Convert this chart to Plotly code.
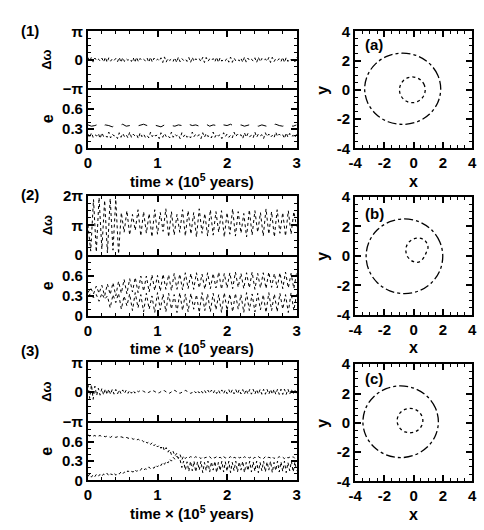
import numpy as np
import plotly.graph_objects as go

# ---------------- data ----------------
t61 = np.round(np.arange(61) * 0.05, 3)
t76 = np.round(np.arange(76) * 0.04, 3)
t121 = np.round(np.arange(121) * 0.025, 3)

x_ticks_time = [0, 1, 2, 3]
x_tick_labels_time = ["0", "1", "2", "3"]
e_ticks = [0, 0.3, 0.6]
e_tick_labels = ["0", "0.3", "0.6"]
dw_ticks_sym = [-3.1416, 0, 3.1416]
dw_labels_sym = ["\u2212\u03c0", "0", "\u03c0"]
dw_ticks_pos = [0, 3.1416, 6.2832]
dw_labels_pos = ["0", "\u03c0", "2\u03c0"]
orbit_ticks = [-4, -2, 0, 2, 4]
orbit_tick_labels = ["-4", "-2", "0", "2", "4"]

# Row (1)
dw1 = [0.25,-0.2,0.3,-0.25,0.2,-0.1,0.08,-0.12,0.2,-0.25,
       0.3,-0.28,0.22,-0.15,0.1,-0.08,0.15,-0.22,0.28,-0.3,
       0.25,-0.18,0.12,-0.06,0.1,-0.18,0.25,-0.3,0.3,-0.22,
       0.15,-0.08,0.06,-0.12,0.2,-0.28,0.3,-0.26,0.18,-0.1,
       0.08,-0.14,0.22,-0.3,0.32,-0.25,0.16,-0.08,0.1,-0.16,
       0.24,-0.3,0.3,-0.22,0.14,-0.07,0.1,-0.18,0.26,-0.3,
       0.28,-0.2,0.12,-0.06,0.12,-0.2,0.28,-0.3,0.26,-0.18,
       0.1,-0.08,0.14,-0.22,0.3,-0.3,0.24,-0.15,0.08,-0.1,
       0.18,-0.26,0.3,-0.28,0.2,-0.12,0.06,-0.12,0.2,-0.28,
       0.3,-0.25,0.18,-0.1,0.08,-0.14,0.22,-0.3,0.3,-0.22,
       0.14,-0.07,0.1,-0.18,0.26,-0.3,0.28,-0.2,0.12,-0.06,
       0.12,-0.2,0.28,-0.3,0.26,-0.18,0.1,-0.08,0.14,-0.22,
       0.3]
e1_outer = [0.36,0.34,0.35,0.37,0.34,0.36,0.35,0.33,0.36,0.35,
            0.37,0.34,0.35,0.36,0.34,0.35,0.37,0.35,0.34,0.36,
            0.35,0.33,0.36,0.37,0.35,0.34,0.36,0.35,0.34,0.37,
            0.35,0.36,0.34,0.35,0.37,0.34,0.36,0.35,0.33,0.36,
            0.35,0.37,0.34,0.35,0.36,0.34,0.35,0.37,0.35,0.34,
            0.36,0.35,0.33,0.36,0.37,0.35,0.34,0.36,0.35,0.34,
            0.36]
e1_inner = [0.22,0.16,0.24,0.17,0.21,0.19,0.23,0.15,0.24,0.18,
            0.2,0.17,0.25,0.16,0.22,0.19,0.2,0.15,0.24,0.17,
            0.23,0.18,0.21,0.16,0.25,0.17,0.22,0.19,0.21,0.15,
            0.24,0.18,0.22,0.17,0.2,0.16,0.25,0.18,0.22,0.19,
            0.21,0.15,0.24,0.17,0.23,0.18,0.2,0.16,0.25,0.17,
            0.22,0.19,0.21,0.15,0.24,0.18,0.22,0.17,0.2,0.16,
            0.25,0.18,0.22,0.19,0.21,0.15,0.24,0.17,0.23,0.18,
            0.2,0.16,0.25,0.17,0.22,0.19,0.21,0.15,0.24,0.18,
            0.22,0.17,0.2,0.16,0.25,0.18,0.22,0.19,0.21,0.15,
            0.24,0.17,0.23,0.18,0.2,0.16,0.25,0.17,0.22,0.19,
            0.21,0.15,0.24,0.18,0.22,0.17,0.2,0.16,0.25,0.18,
            0.22,0.19,0.21,0.15,0.24,0.17,0.23,0.18,0.2,0.16,
            0.22]

# Row (2)
dw2 = [3.2,0.4,5.9,0.3,6.1,0.6,5.8,0.2,6.0,0.5,
       5.9,0.1,4.5,2.4,4.7,2.1,4.3,2.6,4.8,2.0,
       4.6,2.3,4.4,1.9,4.8,2.2,4.5,2.5,4.9,1.9,
       4.6,2.1,4.3,2.4,4.8,2.0,4.7,2.2,4.5,1.9,
       4.9,2.3,4.4,2.0,4.8,2.1,4.6,2.4,4.7,1.9,
       4.5,2.2,4.9,2.0,4.6,2.3,4.4,1.9,4.8,2.1,
       4.7,2.4,4.5,2.0,4.9,2.2,4.6,1.9,4.8,2.3,
       4.5,2.0,4.7,2.2,4.6,3.0]
e2_upper = [0.35,0.42,0.33,0.45,0.34,0.46,0.3,0.48,0.32,0.5,
            0.3,0.52,0.34,0.55,0.33,0.56,0.36,0.58,0.35,0.6,
            0.37,0.6,0.36,0.62,0.38,0.61,0.37,0.63,0.4,0.62,
            0.38,0.64,0.4,0.63,0.39,0.65,0.41,0.64,0.4,0.65,
            0.42,0.63,0.4,0.65,0.41,0.64,0.42,0.66,0.4,0.64,
            0.42,0.65,0.41,0.66,0.43,0.64,0.41,0.65,0.42,0.66,
            0.4,0.64,0.42,0.65,0.41,0.66,0.43,0.64,0.42,0.65,
            0.41,0.66,0.42,0.64,0.41,0.65]
e2_lower = [0.3,0.33,0.27,0.32,0.22,0.34,0.25,0.3,0.12,0.32,
            0.2,0.34,0.1,0.3,0.15,0.33,0.08,0.35,0.12,0.32,
            0.06,0.34,0.1,0.3,0.05,0.35,0.09,0.33,0.06,0.34,
            0.1,0.32,0.05,0.35,0.08,0.33,0.06,0.34,0.1,0.32,
            0.05,0.35,0.08,0.33,0.06,0.34,0.09,0.32,0.05,0.35,
            0.08,0.33,0.06,0.34,0.1,0.32,0.05,0.35,0.08,0.33,
            0.06,0.34,0.09,0.32,0.05,0.35,0.08,0.33,0.06,0.34,
            0.1,0.32,0.05,0.35,0.08,0.33]

# Row (3)
dw3 = [0.8,-0.7,0.75,-0.8,0.6,
       -0.4,0.38,-0.36,0.35,-0.33,0.32,-0.3,0.3,-0.28,0.27,-0.25,0.25,
       -0.23,0.22,-0.2,0.2,-0.18,0.18,-0.16,0.16,-0.15,0.15,-0.14,0.13,
       0.0,0.12,0.15,0.05,-0.1,-0.15,-0.05,0.1,0.15,0.08,-0.08,-0.15,
       -0.1,0.05,0.15,0.12,-0.02,-0.14,-0.14,0.0,0.13,0.15,0.02,-0.12,
       -0.15,-0.04,0.1,0.15,0.06,-0.1,-0.16,-0.08,
       0.12,-0.12,0.14,-0.13,0.15,-0.14,0.16,-0.15,0.17,-0.16,
       0.18,-0.17,0.19,-0.18,0.2,-0.19,0.2,-0.2,0.21,-0.2,
       0.22,-0.21,0.22,-0.22,0.23,-0.22,0.24,-0.23,0.24,-0.24,
       0.25,-0.24,0.25,-0.25,0.26,-0.25,0.26,-0.26,0.26,-0.26,
       0.27,-0.26,0.27,-0.27,0.27,-0.27,0.28,-0.27,0.28,-0.28,
       0.28,-0.28,0.28,-0.28,0.29,-0.28,0.29,-0.29,0.29,-0.29]
e3_upper = [0.71,0.69,0.7,0.69,0.7,0.68,0.69,0.7,0.68,0.69,
            0.68,0.69,0.68,0.67,0.69,0.68,0.67,0.68,0.67,0.68,
            0.67,0.66,0.67,0.66,0.65,0.66,0.64,0.65,0.63,0.64,
            0.62,0.63,0.6,0.62,0.58,0.6,0.56,0.59,0.54,0.57,
            0.52,0.55,0.5,0.54,0.46,0.51,0.44,0.48,0.4,0.45,
            0.38,0.42,0.34,0.4,0.32,0.38,0.34,0.37,0.35,0.37,
            0.36,0.35,0.37,0.35,0.36,0.34,0.37,0.35,0.36,0.35,
            0.37,0.34,0.36,0.35,0.37,0.35,0.36,0.34,0.37,0.35,
            0.36,0.35,0.37,0.34,0.36,0.35,0.37,0.35,0.36,0.34,
            0.37,0.35,0.36,0.35,0.37,0.34,0.36,0.35,0.37,0.35,
            0.36,0.34,0.37,0.35,0.36,0.35,0.37,0.34,0.36,0.35,
            0.37,0.35,0.36,0.34,0.37,0.35,0.36,0.35,0.37,0.34,
            0.36]
e3_lower = [0.06,0.1,0.05,0.09,0.06,0.1,0.07,0.09,0.06,0.1,
            0.08,0.11,0.07,0.1,0.09,0.12,0.08,0.11,0.1,0.13,
            0.1,0.13,0.11,0.15,0.12,0.14,0.13,0.17,0.14,0.16,
            0.15,0.19,0.16,0.18,0.17,0.21,0.18,0.2,0.19,0.24,
            0.21,0.25,0.23,0.28,0.25,0.3,0.27,0.33,0.3,0.36,
            0.33,0.38,0.35,0.32,0.2,0.3,0.16,0.29,0.14,0.3,
            0.15,0.3,0.13,0.29,0.16,0.3,0.12,0.28,0.15,0.3,
            0.13,0.29,0.16,0.3,0.12,0.28,0.15,0.3,0.13,0.29,
            0.14,0.3,0.12,0.28,0.15,0.3,0.13,0.29,0.16,0.3,
            0.12,0.28,0.15,0.3,0.13,0.29,0.14,0.3,0.12,0.28,
            0.15,0.3,0.13,0.29,0.16,0.3,0.12,0.28,0.15,0.3,
            0.13,0.29,0.14,0.3,0.12,0.28,0.15,0.3,0.13,0.29,
            0.15]

# Orbits (x, y)
orb_a_outer_x = [1.85,1.65,1.09,0.25,-0.75,-1.75,-2.59,-3.15,-3.35,-3.15,-2.59,-1.75,-0.75,0.25,1.09,1.65,1.85]
orb_a_outer_y = [0.07,1.0,1.79,2.32,2.5,2.32,1.79,1.0,0.07,-0.86,-1.65,-2.18,-2.36,-2.18,-1.65,-0.86,0.07]
orb_a_inner_x = [0.79,0.72,0.53,0.25,-0.09,-0.43,-0.71,-0.9,-0.97,-0.9,-0.71,-0.43,-0.09,0.25,0.53,0.72,0.79]
orb_a_inner_y = [0,0.34,0.62,0.81,0.88,0.81,0.62,0.34,0,-0.34,-0.62,-0.81,-0.88,-0.81,-0.62,-0.34,0]
orb_b_outer_x = [1.99,1.79,1.22,0.37,-0.63,-1.63,-2.48,-3.05,-3.25,-3.05,-2.48,-1.63,-0.63,0.37,1.22,1.79,1.99]
orb_b_outer_y = [-0.03,0.94,1.76,2.31,2.5,2.31,1.76,0.94,-0.03,-1.0,-1.82,-2.37,-2.56,-2.37,-1.82,-1.0,-0.03]
orb_b_inner_x = [0.98,0.9,0.75,0.5,0.2,-0.1,-0.35,-0.5,-0.53,-0.45,-0.25,0.0,0.25,0.5,0.7,0.85,0.98]
orb_b_inner_y = [0.55,0.85,1.05,1.18,1.2,1.1,0.9,0.62,0.3,0.0,-0.25,-0.4,-0.44,-0.35,-0.1,0.2,0.55]
orb_c_outer_x = [1.69,1.49,0.93,0.1,-0.89,-1.88,-2.71,-3.27,-3.47,-3.27,-2.71,-1.88,-0.89,0.1,0.93,1.49,1.69]
orb_c_outer_y = [0.07,1.01,1.8,2.33,2.52,2.33,1.8,1.01,0.07,-0.87,-1.66,-2.19,-2.38,-2.19,-1.66,-0.87,0.07]
orb_c_inner_x = [0.63,0.56,0.37,0.09,-0.25,-0.59,-0.87,-1.06,-1.13,-1.06,-0.87,-0.59,-0.25,0.09,0.37,0.56,0.63]
orb_c_inner_y = [0.15,0.47,0.74,0.92,0.98,0.92,0.74,0.47,0.15,-0.17,-0.44,-0.62,-0.68,-0.62,-0.44,-0.17,0.15]

row_labels = ["(1)", "(2)", "(3)"]
orbit_labels = ["(a)", "(b)", "(c)"]
time_title = "time \u00d7 (10<sup>5</sup> years)"

# ---------------- layout helpers ----------------
W, H = 484, 530
FONT = "Liberation Sans"


def px(x):
    return x / W


def py(y):
    return 1 - y / H


LEFT = (83, 297)
RIGHT = (357, 477)
ROWS = [  # (dw top, separator, e bottom, orbit top, orbit bottom)
    (23, 82, 144, 23, 144),
    (193, 254, 317, 194, 316),
    (365, 426, 487, 367, 488),
]

# minor tick positions (style only)
minor_time = [0.2, 0.4, 0.6, 0.8, 1.2, 1.4, 1.6, 1.8, 2.2, 2.4, 2.6, 2.8]
minor_e = [0.1, 0.2, 0.4, 0.5, 0.7, 0.8]
minor_orbit = [-3.5, -3, -2.5, -1.5, -1, -0.5, 0.5, 1, 1.5, 2.5, 3, 3.5]
minor_dw_sym = [-2.356, -1.571, -0.785, 0.785, 1.571, 2.356]
minor_dw_pos = [0.785, 1.571, 2.356, 3.927, 4.712, 5.498]

fig = go.Figure()
layout = dict(width=W, height=H, margin=dict(l=0, r=0, t=0, b=0),
              paper_bgcolor="white", plot_bgcolor="white", showlegend=False)

base_axis = dict(showline=True, linecolor="black", linewidth=2, mirror="ticks",
                 ticks="inside", tickcolor="black", tickwidth=1.5, ticklen=6,
                 showgrid=False, zeroline=False, tickmode="array",
                 ticklabeloverflow="allow",
                 tickfont=dict(family=FONT, size=15, color="black", weight="bold"))


def minor(vals):
    return dict(ticks="inside", ticklen=3, tickcolor="black", tickwidth=1,
                showgrid=False, tickmode="array", tickvals=vals)


dw_sets = [(dw1, t121, dw_ticks_sym, dw_labels_sym, [-3.1416, 3.1416], minor_dw_sym),
           (dw2, t76, dw_ticks_pos, dw_labels_pos, [0, 6.2832], minor_dw_pos),
           (dw3, t121, dw_ticks_sym, dw_labels_sym, [-3.1416, 3.1416], minor_dw_sym)]
e_sets = [[(t61, e1_outer, "dash"), (t121, e1_inner, "dot")],
          [(t76, e2_upper, "dot"), (t76, e2_lower, "dot")],
          [(t121, e3_upper, "dot"), (t121, e3_lower, "dot")]]
orb_sets = [[(orb_a_outer_x, orb_a_outer_y, "dashdot"), (orb_a_inner_x, orb_a_inner_y, "dot")],
            [(orb_b_outer_x, orb_b_outer_y, "dashdot"), (orb_b_inner_x, orb_b_inner_y, "dot")],
            [(orb_c_outer_x, orb_c_outer_y, "dashdot"), (orb_c_inner_x, orb_c_inner_y, "dot")]]

annotations = []


def ann(text, x, y, angle=0, size=14, xanchor="center"):
    annotations.append(dict(text=text, x=px(x), y=py(y), xref="paper", yref="paper",
                            showarrow=False, textangle=angle, xanchor=xanchor, yanchor="middle",
                            font=dict(family=FONT, size=size, color="black", weight="bold")))


def nm(k, kind):
    return f"{kind}axis{k}"


def ref(k, kind):
    return kind if k == 1 else f"{kind}{k}"


for r in range(3):
    top, sep, bot, otop, obot = ROWS[r]
    n = r * 3
    ax_dw, ax_e, ax_o = n + 1, n + 2, n + 3

    # delta omega panel
    vals, tt, ticks, labels, rng, mvals = dw_sets[r]
    fig.add_trace(go.Scatter(x=tt, y=vals, mode="lines", xaxis=ref(ax_dw, "x"), yaxis=ref(ax_dw, "y"),
                             line=dict(color="black", width=1, dash="dot")))
    layout[nm(ax_dw, "x")] = dict(base_axis, domain=[px(LEFT[0]), px(LEFT[1])], range=[0, 3],
                                  anchor=ref(ax_dw, "y"), tickvals=x_ticks_time,
                                  ticktext=x_tick_labels_time, showticklabels=False,
                                  minor=minor(minor_time))
    layout[nm(ax_dw, "y")] = dict(base_axis, domain=[py(sep), py(top)], range=rng,
                                  anchor=ref(ax_dw, "x"), tickvals=ticks, ticktext=labels,
                                  minor=minor(mvals))

    # eccentricity panel
    for tt, vals, dash in e_sets[r]:
        fig.add_trace(go.Scatter(x=tt, y=vals, mode="lines", xaxis=ref(ax_e, "x"), yaxis=ref(ax_e, "y"),
                                 line=dict(color="black", width=1, dash=dash)))
    layout[nm(ax_e, "x")] = dict(base_axis, domain=[px(LEFT[0]), px(LEFT[1])], range=[0, 3],
                                 anchor=ref(ax_e, "y"), tickvals=x_ticks_time, ticktext=x_tick_labels_time,
                                 minor=minor(minor_time), mirror=False)
    layout[nm(ax_e, "y")] = dict(base_axis, domain=[py(bot), py(sep)], range=[0, 0.92],
                                 anchor=ref(ax_e, "x"), tickvals=e_ticks, ticktext=e_tick_labels,
                                 minor=minor(minor_e))

    # orbit panel
    for xs, ys, dash in orb_sets[r]:
        fig.add_trace(go.Scatter(x=xs, y=ys, mode="lines", xaxis=ref(ax_o, "x"), yaxis=ref(ax_o, "y"),
                                 line=dict(color="black", width=1.3, dash=dash, shape="spline")))
    layout[nm(ax_o, "x")] = dict(base_axis, domain=[px(RIGHT[0]), px(RIGHT[1])], range=[-4, 4],
                                 anchor=ref(ax_o, "y"), tickvals=orbit_ticks, ticktext=orbit_tick_labels,
                                 minor=minor(minor_orbit))
    layout[nm(ax_o, "y")] = dict(base_axis, domain=[py(obot), py(otop)], range=[-4, 4],
                                 anchor=ref(ax_o, "x"), tickvals=orbit_ticks, ticktext=orbit_tick_labels,
                                 minor=minor(minor_orbit))

    # texts
    ann(row_labels[r], 12, [22, 192, 353][r], xanchor="left", size=15)
    ann(orbit_labels[r], 365, [37, 211, 382][r], xanchor="left", size=15)
    ann("\u0394\u03c9", 41, (top + sep) / 2, angle=-90, size=13)
    ann("e", 41, (sep + bot) / 2, angle=-90, size=16)
    ann(time_title, (LEFT[0] + LEFT[1]) / 2, bot + 33, size=15)
    ann("y", 324, (otop + obot) / 2, angle=-90, size=16)
    ann("x", (RIGHT[0] + RIGHT[1]) / 2, obot + 34, size=16)

layout["annotations"] = annotations
fig.update_layout(**layout)
fig.write_html("out.html", config={"displayModeBar": False},
               post_script="document.body.style.margin='0px';document.body.style.overflow='hidden';")
